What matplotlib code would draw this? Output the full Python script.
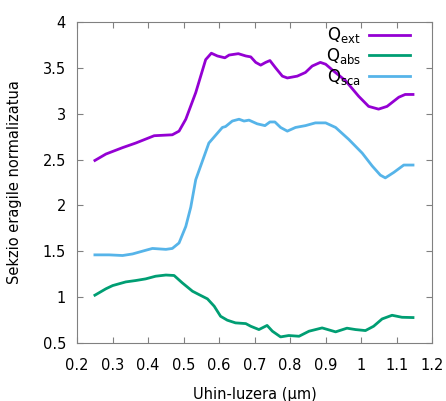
import matplotlib.pyplot as plt
from matplotlib.ticker import FuncFormatter

# Wavelength (um) and normalized cross sections
x_ext = [0.25, 0.281, 0.328, 0.365, 0.417, 0.468, 0.487, 0.506, 0.534, 0.562,
         0.578, 0.595, 0.616, 0.628, 0.654, 0.675, 0.689, 0.703, 0.717, 0.731,
         0.743, 0.759, 0.778, 0.792, 0.82, 0.843, 0.862, 0.885, 0.9, 0.918,
         0.956, 0.993, 1.021, 1.049, 1.073, 1.106, 1.124, 1.146]
q_ext = [2.49, 2.56, 2.63, 2.68, 2.76, 2.77, 2.81, 2.94, 3.23, 3.59,
         3.66, 3.63, 3.61, 3.64, 3.655, 3.63, 3.62, 3.56, 3.53, 3.56,
         3.58, 3.50, 3.41, 3.39, 3.41, 3.45, 3.52, 3.56, 3.54, 3.48,
         3.36, 3.19, 3.08, 3.05, 3.08, 3.18, 3.21, 3.21]

x_abs = [0.25, 0.281, 0.3, 0.337, 0.365, 0.393, 0.421, 0.45, 0.473, 0.496,
         0.525, 0.543, 0.567, 0.586, 0.604, 0.623, 0.646, 0.675, 0.689, 0.712,
         0.735, 0.75, 0.773, 0.796, 0.825, 0.853, 0.89, 0.928, 0.96, 0.984,
         1.012, 1.035, 1.059, 1.087, 1.115, 1.146]
q_abs = [1.02, 1.09, 1.125, 1.165, 1.18, 1.198, 1.227, 1.24, 1.235, 1.155,
         1.063, 1.027, 0.98, 0.9, 0.79, 0.747, 0.718, 0.71, 0.681, 0.645,
         0.69, 0.627, 0.565, 0.58, 0.572, 0.627, 0.663, 0.62, 0.66, 0.645,
         0.634, 0.681, 0.761, 0.801, 0.779, 0.776]

x_sca = [0.25, 0.29, 0.328, 0.356, 0.393, 0.412, 0.45, 0.468, 0.487, 0.506,
         0.52, 0.534, 0.571, 0.609, 0.618, 0.637, 0.656, 0.67, 0.684, 0.707,
         0.729, 0.743, 0.757, 0.773, 0.792, 0.815, 0.843, 0.871, 0.9, 0.928,
         0.965, 1.003, 1.031, 1.054, 1.068, 1.092, 1.12, 1.146]
q_sca = [1.46, 1.46, 1.453, 1.47, 1.51, 1.53, 1.52, 1.53, 1.59, 1.77,
         1.98, 2.28, 2.68, 2.85, 2.86, 2.92, 2.94, 2.92, 2.93, 2.89,
         2.87, 2.91, 2.91, 2.85, 2.81, 2.85, 2.87, 2.90, 2.90, 2.85,
         2.72, 2.57, 2.43, 2.33, 2.30, 2.36, 2.44, 2.44]

fig = plt.figure(figsize=(4.46, 4.01), dpi=100)
ax = fig.add_axes([0.173, 0.145, 0.796, 0.8])

ax.plot(x_ext, q_ext, color='#9400d3', lw=2, label=r'Q$_\mathregular{ext}$')
ax.plot(x_abs, q_abs, color='#009e73', lw=2, label=r'Q$_\mathregular{abs}$')
ax.plot(x_sca, q_sca, color='#56b4e9', lw=2, label=r'Q$_\mathregular{sca}$')

ax.set_xlim(0.2, 1.2)
ax.set_ylim(0.5, 4)
ax.set_xticks([0.2, 0.3, 0.4, 0.5, 0.6, 0.7, 0.8, 0.9, 1.0, 1.1, 1.2])
ax.set_yticks([0.5, 1, 1.5, 2, 2.5, 3, 3.5, 4])
fmt = FuncFormatter(lambda v, p: '%g' % v)
ax.xaxis.set_major_formatter(fmt)
ax.yaxis.set_major_formatter(fmt)
ax.tick_params(direction='in', top=True, right=True, labelsize=10.5, length=4,
               color='#808080')
ax.tick_params(axis='x', pad=11)
ax.tick_params(axis='y', pad=8)
for s in ax.spines.values():
    s.set_color('#808080')

ax.set_xlabel('Uhin-luzera (μm)', fontsize=10.5, labelpad=10)
ax.set_ylabel('Sekzio eragile normalizatua', fontsize=10.5, labelpad=15)

ax.legend(loc='upper right', bbox_to_anchor=(0.952, 1.005), frameon=False,
          markerfirst=False, fontsize=12, handlelength=2.45, labelspacing=0.05,
          borderaxespad=0, borderpad=0.3, handletextpad=0.5)

fig.savefig('out.png', dpi=100)
